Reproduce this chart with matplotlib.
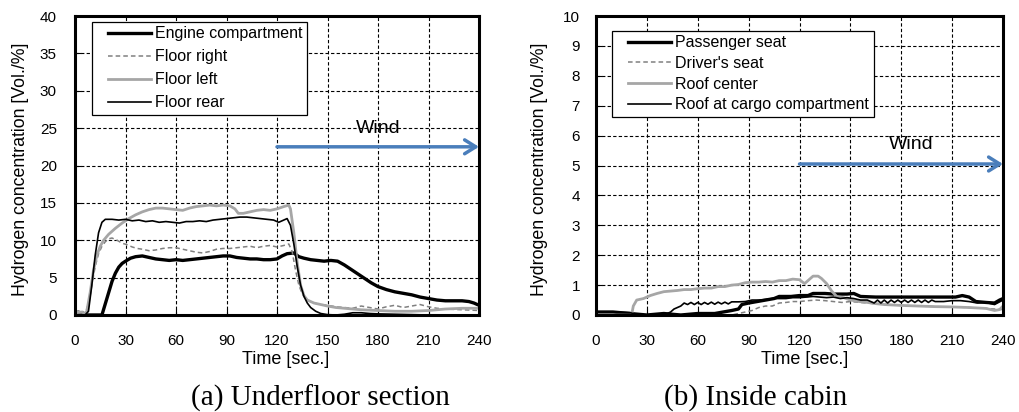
import numpy as np
import matplotlib.pyplot as plt
from matplotlib.lines import Line2D
from matplotlib.legend_handler import HandlerLine2D

plt.rcParams['font.family'] = ['Liberation Sans', 'DejaVu Sans']

# ---- (a) Underfloor section ----
t_engine = [0, 16, 18, 20, 22, 24, 26, 28, 30, 33, 36, 40, 44, 48, 52, 56, 60, 64, 68, 72, 76, 80,
            84, 88, 92, 96, 100, 104, 108, 112, 116, 120, 123, 126, 130, 133, 136, 140, 144, 148,
            152, 156, 160, 164, 168, 172, 176, 180, 185, 190, 195, 200, 205, 210, 215, 220, 225,
            230, 234, 237, 240]
v_engine = [0, 0, 1.5, 3.0, 4.5, 5.6, 6.4, 6.9, 7.2, 7.6, 7.8, 7.9, 7.7, 7.5, 7.4, 7.3, 7.4, 7.3,
            7.4, 7.5, 7.6, 7.7, 7.8, 7.9, 7.9, 7.7, 7.6, 7.5, 7.5, 7.4, 7.4, 7.5, 7.9, 8.2, 8.3, 7.8,
            7.6, 7.4, 7.3, 7.2, 7.3, 7.2, 6.7, 6.1, 5.5, 4.9, 4.3, 3.8, 3.4, 3.1, 2.9, 2.7, 2.4, 2.2,
            2.0, 1.9, 1.9, 1.9, 1.8, 1.6, 1.3]

t_fright = [0, 4, 6, 8, 10, 12, 14, 16, 18, 20, 22, 25, 28, 31, 34, 37, 40, 44, 48, 52, 56, 60, 64,
            68, 72, 76, 80, 84, 88, 92, 96, 100, 104, 108, 112, 116, 120, 124, 127, 129, 131, 133,
            135, 138, 142, 146, 150, 155, 160, 165, 170, 175, 180, 185, 190, 195, 200, 205, 210,
            215, 220, 230, 240]
v_fright = [0.5, 0.6, 0.2, 1.5, 4.0, 6.5, 8.2, 9.2, 9.8, 10.2, 10.3, 10.0, 9.6, 9.4, 9.1, 8.9, 8.8,
            8.6, 8.7, 8.9, 9.0, 9.0, 8.8, 8.6, 8.4, 8.3, 8.5, 8.8, 8.9, 8.9, 9.0, 9.1, 9.2, 9.0, 9.2,
            9.3, 9.1, 9.3, 9.5, 8.5, 6.0, 4.0, 2.8, 2.0, 1.6, 1.4, 1.3, 1.1, 1.0, 0.9, 1.2, 1.0, 0.8,
            1.1, 1.3, 1.0, 1.2, 1.4, 1.1, 0.9, 0.8, 0.7, 0.6]

t_fleft = [0, 4, 6, 7, 9, 11, 13, 15, 17, 20, 24, 28, 32, 36, 40, 44, 48, 52, 56, 60, 64, 68, 72,
           76, 80, 84, 88, 92, 95, 97, 100, 104, 108, 112, 116, 120, 124, 127, 128, 130, 132, 134,
           136, 138, 142, 146, 150, 155, 160, 170, 180, 190, 200, 210, 220, 230, 240]
v_fleft = [0.3, 0.4, 0.2, 0.5, 3.0, 6.0, 8.0, 9.2, 10.0, 10.8, 11.6, 12.3, 12.9, 13.4, 13.8, 14.1,
           14.3, 14.3, 14.2, 14.1, 14.0, 14.3, 14.5, 14.6, 14.7, 14.6, 14.7, 14.6, 14.2, 13.6, 13.6,
           13.8, 14.0, 14.1, 14.0, 14.2, 14.5, 14.7, 14.2, 11.0, 7.0, 4.0, 2.6, 2.0, 1.6, 1.4, 1.2,
           1.0, 0.9, 0.7, 0.6, 0.5, 0.5, 0.6, 0.8, 0.9, 0.9]

t_frear = [0, 6, 8, 10, 12, 14, 16, 18, 22, 26, 30, 34, 38, 42, 46, 50, 54, 58, 62, 66, 70, 74, 78,
           82, 86, 90, 94, 98, 102, 106, 110, 114, 118, 121, 123, 126, 128, 130, 132, 134, 136,
           138, 140, 143, 146, 150, 155, 160, 165, 170, 175, 180, 190, 200, 210, 240]
v_frear = [0, 0, 0.5, 4.0, 8.0, 11.0, 12.4, 12.8, 12.8, 12.7, 12.8, 12.6, 12.7, 12.5, 12.6, 12.4,
           12.5, 12.4, 12.3, 12.5, 12.5, 12.6, 12.5, 12.7, 12.8, 12.9, 13.0, 13.1, 13.1, 13.0, 12.9,
           12.8, 12.7, 12.4, 12.6, 12.9, 12.0, 9.5, 6.5, 4.0, 2.5, 1.6, 1.0, 0.5, 0.2, 0.05, 0, 0.1,
           0.3, 0.3, 0.2, 0.15, 0.1, 0.05, 0, 0]

# ---- (b) Inside cabin ----
t_pass = [0, 10, 20, 30, 40, 50, 60, 70, 75, 80, 84, 86, 90, 95, 100, 105, 108, 115, 120, 125, 128,
          135, 140, 148, 152, 156, 165, 175, 185, 195, 205, 212, 216, 220, 224, 230, 235, 238, 240]
v_pass = [0.1, 0.1, 0.05, 0.0, 0.05, 0.0, 0.05, 0.05, 0.1, 0.15, 0.2, 0.35, 0.4, 0.45, 0.5, 0.55,
          0.62, 0.62, 0.65, 0.65, 0.72, 0.72, 0.7, 0.7, 0.72, 0.62, 0.6, 0.6, 0.6, 0.6, 0.6, 0.6,
          0.65, 0.6, 0.45, 0.42, 0.4, 0.5, 0.55]

t_driver = [0, 80, 84, 88, 92, 96, 100, 104, 108, 112, 116, 120, 125, 130, 135, 140, 145, 150, 160,
            170, 180, 190, 200, 210, 220, 230, 240]
v_driver = [0, 0, 0.05, 0.1, 0.15, 0.25, 0.3, 0.3, 0.4, 0.42, 0.45, 0.45, 0.48, 0.5, 0.48, 0.45,
            0.42, 0.45, 0.4, 0.35, 0.32, 0.3, 0.28, 0.27, 0.25, 0.22, 0.18]

t_roofc = [0, 21, 22, 24, 28, 32, 36, 40, 44, 48, 52, 56, 60, 64, 68, 72, 76, 80, 84, 88, 92, 96,
           100, 104, 108, 112, 116, 120, 123, 126, 128, 131, 133, 136, 139, 142, 146, 150, 155,
           160, 165, 170, 180, 190, 200, 210, 220, 230, 235, 238, 240]
v_roofc = [0, 0, 0.3, 0.5, 0.55, 0.65, 0.72, 0.78, 0.8, 0.82, 0.85, 0.85, 0.88, 0.9, 0.9, 0.95,
           0.95, 1.0, 1.02, 1.08, 1.1, 1.1, 1.12, 1.1, 1.15, 1.15, 1.2, 1.18, 1.05, 1.2, 1.3, 1.3,
           1.22, 1.05, 0.8, 0.62, 0.58, 0.5, 0.45, 0.42, 0.38, 0.35, 0.32, 0.3, 0.28, 0.27, 0.25,
           0.22, 0.15, 0.18, 0.3]

t_cargo = [0, 10, 20, 25, 40, 44, 46, 50, 52, 54, 56, 58, 60, 62, 64, 66, 68, 70, 72, 74, 76, 78,
           80, 84, 88, 92, 96, 100, 104, 108, 112, 116, 120, 124, 128, 132, 136, 140, 144, 148,
           152, 156, 160, 164, 166, 168, 170, 172, 174, 176, 178, 180, 182, 184, 186, 188, 190,
           192, 194, 196, 198, 200, 205, 210, 215, 220, 225, 230, 235, 240]
v_cargo = [0.1, 0.1, 0.08, 0, 0, 0.1, 0.2, 0.3, 0.4, 0.35, 0.42, 0.35, 0.42, 0.35, 0.42, 0.36,
           0.43, 0.36, 0.43, 0.37, 0.43, 0.37, 0.44, 0.44, 0.45, 0.5, 0.5, 0.52, 0.55, 0.55, 0.55,
           0.58, 0.58, 0.6, 0.62, 0.6, 0.58, 0.6, 0.55, 0.58, 0.55, 0.5, 0.5, 0.4, 0.5, 0.4, 0.5,
           0.4, 0.5, 0.42, 0.5, 0.42, 0.5, 0.42, 0.5, 0.42, 0.5, 0.42, 0.5, 0.42, 0.5, 0.45, 0.45,
           0.48, 0.48, 0.45, 0.4, 0.42, 0.35, 0.5]

x_ticks = [0, 30, 60, 90, 120, 150, 180, 210, 240]
wind_blue = '#4a7ebb'

fig = plt.figure(figsize=(10.19, 4.12), dpi=100)
ax1 = fig.add_axes([75/1019, 1-315/412, 404/1019, 299/412])
ax2 = fig.add_axes([596/1019, 1-315/412, 407/1019, 299/412])

ax1.plot(t_engine, v_engine, color='black', lw=2.4, label='Engine compartment')
ax1.plot(t_fright, v_fright, color='#808080', lw=1.1, ls=(0, (3, 2)), label='Floor right')
ax1.plot(t_fleft, v_fleft, color='#a6a6a6', lw=2.0, label='Floor left')
ax1.plot(t_frear, v_frear, color='black', lw=1.2, label='Floor rear')

ax2.plot(t_pass, v_pass, color='black', lw=2.4, label='Passenger seat')
ax2.plot(t_driver, v_driver, color='#808080', lw=1.1, ls=(0, (3, 2)), label="Driver's seat")
ax2.plot(t_roofc, v_roofc, color='#a6a6a6', lw=2.0, label='Roof center')
ax2.plot(t_cargo, v_cargo, color='black', lw=1.2, label='Roof at cargo compartment')

setup = [(ax1, 40, 5, 13, 0.522, -0.136, 0.488), (ax2, 10, 1, 11.5, 0.5135, -0.1376, 0.488)]
for ax, ymax, ystep, ypad, xlx, ylx, yly in setup:
    ax.set_xlim(0, 240)
    ax.set_ylim(0, ymax)
    ax.set_xticks(x_ticks)
    ax.set_yticks(np.arange(0, ymax + ystep / 2, ystep))
    ax.grid(True, color='black', ls=(0, (3, 2)), lw=0.8)
    ax.set_axisbelow(True)
    ax.tick_params(direction='in', length=4, labelsize=11)
    ax.tick_params(axis='x', pad=14)
    ax.tick_params(axis='y', pad=ypad)
    for s in ax.spines.values():
        s.set_linewidth(2.2)
    ax.set_xlabel('Time [sec.]', fontsize=13, va='center')
    ax.xaxis.set_label_coords(xlx, -45/299)
    ax.set_ylabel('Hydrogen concentration [Vol./%]', fontsize=12.8, va='center')
    ax.yaxis.set_label_coords(ylx, yly)

hmap = {Line2D: HandlerLine2D(xpad=0.7)}
leg1 = ax1.legend(loc='upper left', bbox_to_anchor=(0.041, 0.981), fontsize=11.5, fancybox=False,
                  edgecolor='black', framealpha=1, handlelength=3.4, handletextpad=0.25,
                  labelspacing=0.5, borderpad=0.3, borderaxespad=0, handler_map=hmap)
leg1.get_frame().set_linewidth(0.9)
leg2 = ax2.legend(loc='upper left', bbox_to_anchor=(0.039, 0.951), fontsize=11.5, fancybox=False,
                  edgecolor='black', framealpha=1, handlelength=3.4, handletextpad=0.25,
                  labelspacing=0.35, borderpad=0.3, borderaxespad=0, handler_map=hmap)
leg2.get_frame().set_linewidth(0.9)

arrow = dict(arrowstyle='->,head_length=0.8,head_width=0.5', color=wind_blue, lw=2.5,
             shrinkA=0, shrinkB=0)
ax1.annotate('', xy=(240, 22.5), xytext=(120, 22.5), arrowprops=arrow, annotation_clip=False)
ax1.text(180, 25, 'Wind', fontsize=14, ha='center', va='center')
ax2.annotate('', xy=(240, 5.05), xytext=(120, 5.05), arrowprops=arrow, annotation_clip=False)
ax2.text(186, 5.7, 'Wind', fontsize=14, ha='center', va='center')

fig.text(320/1019, 1-398/412, '(a) Underfloor section', family='Liberation Serif', fontsize=21,
         ha='center', va='center')
fig.text(756/1019, 1-398/412, '(b) Inside cabin', family='Liberation Serif', fontsize=21,
         ha='center', va='center')

fig.savefig('out.png', dpi=100)
